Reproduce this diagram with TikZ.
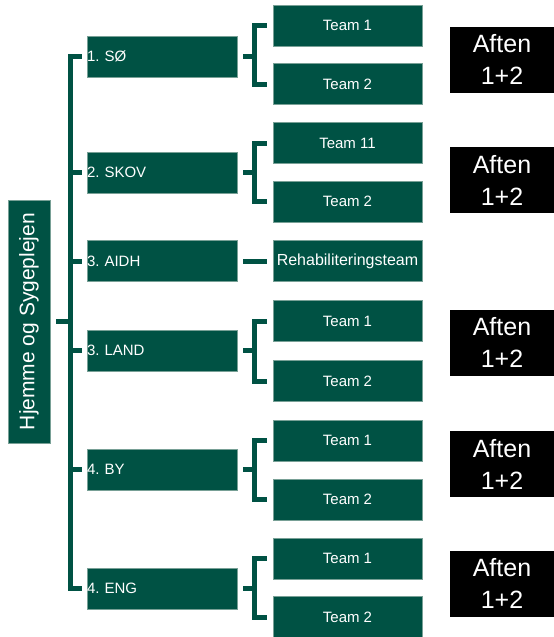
\documentclass[tikz,border=0pt]{standalone}
\usepackage{fontspec}
\setmainfont{Liberation Sans}
\definecolor{dg}{RGB}{0,82,68}
\definecolor{dgedge}{RGB}{120,160,150}
\frenchspacing
\begin{document}
\frenchspacing
\begin{tikzpicture}[x=1pt,y=-1pt,
  gbox/.style={fill=dg, draw=dgedge, line width=0.4pt, inner sep=0pt, text=white, font=\fontsize{15}{18}\selectfont\frenchspacing},
  lvl/.style={gbox, text width=150pt, minimum height=41pt, align=left},
  team/.style={gbox, minimum width=149pt, minimum height=41pt},
  aften/.style={fill=black, inner sep=0pt, minimum width=104pt, minimum height=66pt, text=white, align=center, font=\fontsize{25}{32}\selectfont},
  conn/.style={draw=dg, line width=5pt, line join=miter}]
\useasboundingbox (0,0) rectangle (554,637);
% root
\node[gbox, minimum width=42pt, minimum height=243pt, font=\fontsize{21}{24}\selectfont] (root) at (29,321.5) {\rotatebox{90}{Hjemme og Sygeplejen}};
% level 1
\node[lvl] (so)   at (162,56.5)  {1. SØ};
\node[lvl] (skov) at (162,172.5) {2. SKOV};
\node[lvl] (aidh) at (162,261)   {3. AIDH};
\node[lvl] (land) at (162,350.5) {3. LAND};
\node[lvl] (by)   at (162,469.5) {4. BY};
\node[lvl] (eng)  at (162,588.5) {4. ENG};
% teams
\node[team] (so1)   at (347.5,25.5)  {Team 1};
\node[team] (so2)   at (347.5,84)    {Team 2};
\node[team] (skov1) at (347.5,143)   {Team 11};
\node[team] (skov2) at (347.5,201.5) {Team 2};
\node[team, font=\fontsize{16}{19}\selectfont] (rehab) at (347.5,261) {Rehabiliteringsteam};
\node[team] (land1) at (347.5,321)   {Team 1};
\node[team] (land2) at (347.5,381)   {Team 2};
\node[team] (by1)   at (347.5,440.5) {Team 1};
\node[team] (by2)   at (347.5,499.5) {Team 2};
\node[team] (eng1)  at (347.5,558.5) {Team 1};
\node[team] (eng2)  at (347.5,617)   {Team 2};
% aften boxes
\node[aften] (a1) at (502,59.5)  {Aften\\1+2};
\node[aften] (a2) at (502,180)   {Aften\\1+2};
\node[aften] (a3) at (502,342.5) {Aften\\1+2};
\node[aften] (a4) at (502,464)   {Aften\\1+2};
\node[aften] (a5) at (502,583.5) {Aften\\1+2};
% connectors
\coordinate (sp) at (70,0);
\coordinate (bx) at (254.5,0);
\draw[conn, shorten <=6pt] (root.east) -- (sp |- root.east);
\foreach \n in {so,skov,aidh,land,by,eng}
  \draw[conn, shorten >=4.5pt] (sp |- root.east) |- (\n.west);
\foreach \n in {so,skov,land,by,eng}{
  \draw[conn, shorten <=6pt] (\n.east) -- (bx |- \n.east);
  \draw[conn, shorten >=6pt] (bx |- \n.east) |- (\n1.west);
  \draw[conn, shorten >=6pt] (bx |- \n.east) |- (\n2.west);
}
\draw[conn, shorten <=6pt, shorten >=6pt] (aidh.east) -- (rehab.west);
\end{tikzpicture}
\end{document}
